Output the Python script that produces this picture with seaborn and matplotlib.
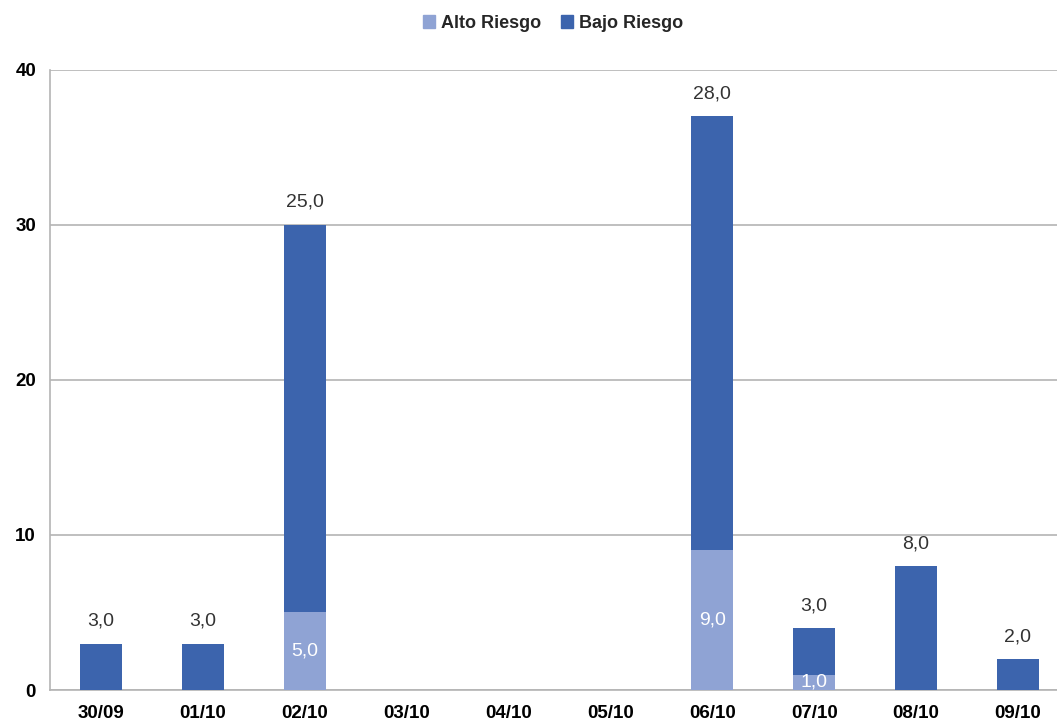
import matplotlib
matplotlib.use("Agg")
import matplotlib.pyplot as plt
from matplotlib.patches import Patch
import seaborn as sns
import pandas as pd

# Datos
fechas = ['30/09', '01/10', '02/10', '03/10', '04/10', '05/10', '06/10', '07/10', '08/10', '09/10']
alto_riesgo = [0, 0, 5, 0, 0, 0, 9, 1, 0, 0]
bajo_riesgo = [3, 3, 25, 0, 0, 0, 28, 3, 8, 2]

color_alto = '#8fa3d4'
color_bajo = '#3c64ad'

df = pd.DataFrame({'fecha': fechas, 'alto': alto_riesgo, 'bajo': bajo_riesgo})
df['total'] = df['alto'] + df['bajo']

sns.set_style('white')
plt.rcParams['font.family'] = ['Liberation Sans', 'DejaVu Sans']

fig = plt.figure(figsize=(10.57, 7.22), dpi=100)
ax = fig.add_axes([0.0473, 0.0443, 0.964, 0.859])

# Barras apiladas: total en oscuro y alto riesgo encima en claro
sns.barplot(data=df, x='fecha', y='total', color=color_bajo, width=0.41,
            saturation=1, linewidth=0, ax=ax, zorder=3)
sns.barplot(data=df[df['alto'] > 0], x='fecha', y='alto', color=color_alto,
            width=0.41, saturation=1, linewidth=0, ax=ax, zorder=4,
            order=fechas)
ax.set_xlim(-0.5, len(fechas) - 0.5)

ax.set_ylim(0, 40)
ax.set_yticks([0, 10, 20, 30, 40])
ax.set_xlabel('')
ax.set_ylabel('')
ax.yaxis.grid(True, color='#b4b4b4', linewidth=1.2, zorder=0)
ax.xaxis.grid(False)
for lado in ['top', 'right']:
    ax.spines[lado].set_visible(False)
for lado in ['left', 'bottom']:
    ax.spines[lado].set_color('#b4b4b4')
    ax.spines[lado].set_linewidth(1.2)
ax.tick_params(axis='both', length=0, labelsize=13.5, colors='black')
ax.tick_params(axis='x', pad=11)
ax.tick_params(axis='y', pad=10)
for t in ax.get_xticklabels() + ax.get_yticklabels():
    t.set_fontweight('bold')

# Etiquetas de valores
for i, (a, b) in enumerate(zip(alto_riesgo, bajo_riesgo)):
    if b > 0:
        ax.annotate(f'{b:.1f}'.replace('.', ','), (i, a + b), xytext=(0, 10),
                    textcoords='offset points', ha='center', va='bottom',
                    fontsize=14, color='#333333', zorder=5)
    if a > 0:
        ax.text(i, a / 2, f'{a:.1f}'.replace('.', ','), ha='center', va='center',
                fontsize=14, color='white', zorder=5)

handles = [Patch(color=color_alto, label='Alto Riesgo'),
           Patch(color=color_bajo, label='Bajo Riesgo')]
leg = fig.legend(handles=handles, loc='center', bbox_to_anchor=(0.523, 0.968),
                 ncol=2, frameon=False, handlelength=0.7, handleheight=0.7,
                 handletextpad=0.3, columnspacing=1.1,
                 prop={'weight': 'bold', 'size': 13})

fig.savefig('out.png', dpi=100)
